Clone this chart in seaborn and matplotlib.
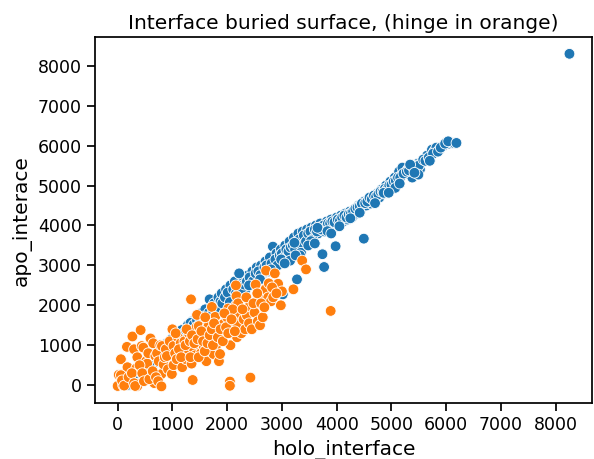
import matplotlib
matplotlib.use("Agg")
import matplotlib.pyplot as plt
import seaborn as sns
import pandas as pd

# ---- data ----
blue_x = [130, 170, 200, 230, 260, 290, 320, 350, 200, 250, 150, 380, 300, 420, 270, 360, 450, 400, 480, 520,
          560, 600, 640, 680, 720, 760, 800, 840, 880, 920, 960, 1000, 1040, 1080, 1120, 1160, 1200, 1240, 1280, 1320,
          1360, 1400, 1440, 1480, 1520, 1560, 1600, 1640, 1680, 1720, 1760, 1800, 1840, 1880, 1900, 1940, 1980, 2020, 2060, 2100,
          2140, 2180, 2220, 2260, 2300, 2340, 2380, 2420, 2460, 2500, 2540, 2580, 2620, 2660, 2700, 2740, 2780, 2835, 2860, 2900,
          2940, 2980, 3020, 3060, 3100, 3140, 3180, 3220, 3260, 3300, 3340, 3380, 3420, 3460, 3500, 3540, 3580, 3620, 3660, 3700,
          3740, 3770, 3780, 3820, 3860, 3900, 3940, 3980, 4000, 4040, 4080, 4120, 4160, 4200, 4240, 4280, 4320, 4360, 4400, 4440,
          4495, 4500, 4540, 4580, 4620, 4660, 4700, 4740, 4780, 4820, 4860, 4900, 4940, 4980, 5020, 5060, 5100, 5140, 5180, 5200,
          5260, 5300, 5350, 5380, 5420, 5480, 5520, 5560, 5600, 5650, 5700, 5740, 5780, 5820, 5880, 5950, 6000, 6050, 6100, 6150,
          1050, 1110, 1170, 1230, 1290, 1330, 1390, 1450, 1510, 1570, 1620, 1670, 1730, 1790, 1850, 1910, 1960, 2010, 2050, 2110,
          2160, 2210, 2250, 2310, 2360, 2410, 2470, 2520, 2570, 2610, 2680, 2720, 2760, 2810, 2880, 2920, 2960, 3000, 3040, 3080,
          3120, 3160, 3200, 3240, 3280, 3320, 3360, 3400, 3440, 3480, 3520, 3560, 3600, 3640, 3680, 3720, 3760, 3800, 3840, 3880,
          3920, 3960, 4020, 4060, 4100, 4140, 4180, 4220, 4260, 4300, 4340, 4380, 4420, 4460, 4520, 4560, 4600, 4640, 4680, 4720,
          4760, 4800, 4840, 4880, 4920, 4960, 5000, 5040, 5080, 5120, 5160, 5220, 5280, 5320, 5400, 5450, 5500, 5580, 5620, 5680,
          5760, 5850, 5900, 5980, 480, 540, 580, 620, 660, 700, 740, 780, 820, 860, 900, 940, 980, 1020,
          2219, 3275, 3016, 3348, 3529, 3650, 3831, 2986, 3228, 5341, 5492, 5069, 4858, 6036, 6187,
          3150, 3330, 3480, 3600, 3900, 4050, 4250, 4420, 4700, 4950, 5150, 5420, 5700, 2400, 2600, 2800, 3050, 3250,
          8250]
blue_y = [10, 40, 0, 70, 20, 90, 40, 110, 130, 170, 80, 60, 200, 150, 260, 300, 280, 380, 420, 350,
          620, 480, 700, 560, 820, 680, 900, 760, 1000, 850, 1100, 930, 1200, 1050, 1300, 1150, 1400, 1250, 1500, 1350,
          1600, 1450, 1700, 1550, 1800, 1650, 1900, 1750, 2150, 1850, 2050, 1950, 2200, 2100, 2300, 2000, 2400, 2150, 2500, 2250,
          2600, 2350, 2800, 2450, 2650, 2400, 2750, 2550, 2850, 2650, 2950, 2700, 3000, 2800, 3100, 2900, 3200, 3470, 3000, 3300,
          3100, 3400, 3150, 3500, 3250, 3600, 3350, 3700, 3450, 3800, 3550, 3850, 3650, 3900, 3700, 3950, 3750, 4000, 3800, 4050,
          3280, 2960, 3850, 4100, 3900, 4150, 3950, 3480, 4200, 4000, 4250, 4100, 4300, 4150, 4350, 4200, 4400, 4300, 4500, 4400,
          3670, 4600, 4500, 4650, 4550, 4700, 4650, 4800, 4700, 4900, 4800, 5000, 4950, 5100, 5050, 5200, 5150, 5350, 5250, 5450,
          5300, 5400, 5500, 5200, 5450, 5550, 5400, 5600, 5650, 5750, 5700, 5900, 5850, 5950, 5900, 6000, 6080, 6050, 6070, 6060,
          1250, 1180, 1380, 1330, 1420, 1560, 1520, 1620, 1580, 1720, 1680, 1820, 1780, 1900, 1850, 2050, 2200, 2320, 2080, 2400,
          2300, 2500, 2380, 2520, 2600, 2700, 2600, 2800, 2850, 2760, 2950, 3000, 2850, 3050, 3150, 3000, 3250, 3300, 3200, 3400,
          3350, 3450, 3500, 3400, 3600, 3650, 3500, 3750, 3600, 3800, 3850, 3650, 3900, 3850, 3950, 3900, 4000, 3950, 4050, 4050,
          4100, 4080, 4150, 4120, 4200, 4250, 4200, 4280, 4300, 4350, 4420, 4450, 4480, 4550, 4560, 4600, 4700, 4660, 4750, 4720,
          4780, 4850, 4850, 4920, 4900, 5000, 5020, 5100, 5120, 5200, 5200, 5300, 5350, 5380, 5450, 5500, 5500, 5650, 5620, 5700,
          5800, 5850, 5950, 6050, 550, 500, 650, 600, 800, 720, 900, 850, 950, 880, 1050, 950, 1150, 1080,
          2800, 2650, 2275, 3317, 3608, 3942, 3858, 3150, 3567, 5525, 5275, 4942, 4817, 6108, 6067,
          3120, 3250, 3500, 3550, 3800, 3980, 4180, 4320, 4560, 4820, 5050, 5320, 5620, 2500, 2650, 2900, 3050, 3250,
          8300]

orange_x = [0, 20, 60, 100, 150, 170, 180, 240, 270, 300, 340, 360, 360, 420, 440, 470, 500, 520, 540, 560,
            600, 620, 650, 670, 690, 720, 750, 780, 800, 810, 840, 860, 880, 900, 920, 950, 990, 1020, 1020, 1050,
            1080, 1100, 1150, 1180, 1200, 1220, 1250, 1280, 1300, 1340, 1350, 1370, 1380, 1400, 1420, 1440, 1450, 1480, 1500, 1520,
            1550, 1570, 1600, 1620, 1650, 1660, 1700, 1720, 1750, 1780, 1780, 1800, 1820, 1850, 1870, 1900, 1930, 1960, 2000, 2020,
            2050, 2050, 2060, 2100, 2120, 2160, 2170, 2180, 2200, 2230, 2260, 2300, 2330, 2360, 2400, 2410, 2425, 2450, 2500, 2520,
            2560, 2580, 2600, 2650, 2700, 2710, 2750, 2800, 2840, 2870, 2930, 2980, 3000, 3210, 3370, 3440, 3890, 2160, 2200, 2100,
            1950, 1600, 1000, 1060, 1120, 1160, 1240, 1260, 1320, 1330, 1360, 1400, 1460, 1480, 1530, 1560, 1590, 1640, 1680, 1720,
            1740, 1760, 1830, 1880, 1920, 1980, 2020, 2080, 2140, 2280, 2350, 2480, 2550, 2620, 2680, 2760, 2820, 2900,
            60, 80, 120, 200, 260, 300, 320, 400, 450, 480, 580, 640, 700, 740, 800]
orange_y = [-20, 260, 650, 0, 300, 960, 450, 130, 1220, 900, 420, -20, 700, 1380, 980, 940, 200, 600, 540, 800,
            1170, 300, 1050, 50, 730, 800, 600, 1000, 280, 980, 520, 700, 900, 730, 400, 1100, 280, 500, 980, 800,
            650, 1200, 1050, 450, 820, 1100, 650, 900, 1300, 2150, 540, 130, 940, 1230, 750, 1450, 1760, 1480, 1000, 800,
            1230, 980, 1300, 600, 1500, 1480, 1100, 1960, 780, 1270, 1710, 1000, 1450, 600, 780, 1250, 1530, 1280, 1700, 1920,
            90, -15, 1000, 1400, 1600, 2000, 2230, 1200, 1500, 1800, 1300, 1650, 1400, 1750, 1550, 1980, 190, 1400, 1820, 2520,
            1600, 2180, 1500, 1700, 2400, 2870, 2200, 2100, 2200, 2800, 2540, 2000, 2350, 2400, 3120, 2900, 1860, 2500, 2050, 1900,
            1800, 1700, 1400, 1300, 900, 700, 1000, 1400, 1100, 700, 1250, 1050, 1150, 700, 1350, 1100, 850, 1050, 1250, 1400,
            1000, 1550, 1200, 1400, 1100, 1450, 1300, 1650, 1350, 1900, 2200, 2050, 2300, 2050, 1950, 2550, 2450, 2300,
            250, 120, -10, 200, 300, 50, -20, 500, 300, 100, 150, 350, 200, 100, -30]

df = pd.DataFrame({
    "holo_interface": blue_x + orange_x,
    "apo_interace": blue_y + orange_y,
    "hinge": ["no"] * len(blue_x) + ["yes"] * len(orange_x),
})

sns.set_theme(style="ticks", context="notebook")
plt.rcParams["font.family"] = ["DejaVu Sans"]
for key in ["text.color", "axes.labelcolor", "xtick.color", "ytick.color", "axes.edgecolor"]:
    plt.rcParams[key] = "black"

fig = plt.figure(figsize=(5.94, 4.59), dpi=100)
ax = fig.add_axes([0.160, 0.122, 0.8367, 0.797])
sns.scatterplot(data=df, x="holo_interface", y="apo_interace", hue="hinge",
                palette={"no": "#1f77b4", "yes": "#ff7f0e"}, s=60, legend=False, ax=ax)
ax.set_xticks(range(0, 8001, 1000))
ax.set_yticks(range(0, 8001, 1000))
ax.tick_params(labelsize=12.5, length=6, width=1.25)
ax.set_xlabel("holo_interface", fontsize=14.5)
ax.set_ylabel("apo_interace", fontsize=14.5)
ax.set_title("Interface buried surface, (hinge in orange)", fontsize=14.5)
fig.savefig("out.png", dpi=100)
